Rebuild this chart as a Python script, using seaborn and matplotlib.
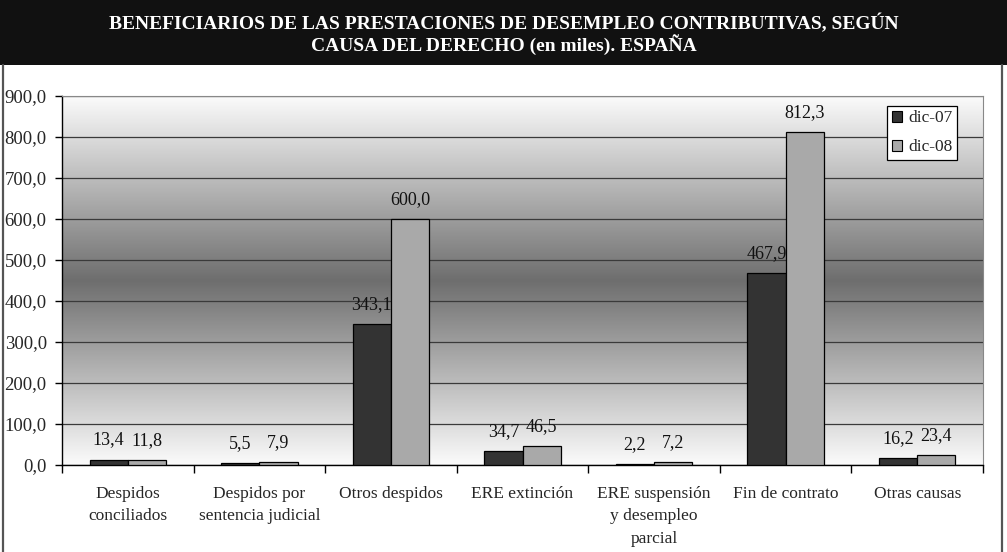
import numpy as np
import pandas as pd
import seaborn as sns
import matplotlib.pyplot as plt
from matplotlib.colors import LinearSegmentedColormap
from matplotlib.patches import Rectangle
from matplotlib.lines import Line2D
from matplotlib.ticker import FuncFormatter, MultipleLocator

# datos (miles de beneficiarios)
categorias = ["Despidos\nconciliados", "Despidos por\nsentencia judicial", "Otros despidos",
              "ERE extinción", "ERE suspensión\ny desempleo\nparcial", "Fin de contrato",
              "Otras causas"]
series = ["dic-07", "dic-08"]
dic_07 = [13.4, 5.5, 343.1, 34.7, 2.2, 467.9, 16.2]
dic_08 = [11.8, 7.9, 600.0, 46.5, 7.2, 812.3, 23.4]
colores = ["#333333", "#a9a9a9"]

titulo = ("BENEFICIARIOS DE LAS PRESTACIONES DE DESEMPLEO CONTRIBUTIVAS, SEGÚN\n"
          "CAUSA DEL DERECHO (en miles). ESPAÑA")

df = pd.DataFrame({
    "causa": categorias * 2,
    "serie": [series[0]] * len(categorias) + [series[1]] * len(categorias),
    "valor": dic_07 + dic_08,
})

sns.set_style("white")
plt.rcParams["font.family"] = ["Liberation Serif", "DejaVu Serif"]

fig = plt.figure(figsize=(10.07, 5.52), dpi=100)
ax = fig.add_axes([62 / 1007, 1 - 465 / 552, (983 - 62) / 1007, (465 - 96) / 552])

# fondo degradado blanco -> gris -> blanco
cmap = LinearSegmentedColormap.from_list("fondo", ["#fbfbfb", "#6e6e6e", "#fbfbfb"])
grad = np.linspace(0, 1, 256).reshape(-1, 1)
ax.imshow(grad, cmap=cmap, aspect="auto", extent=[0, 1, 0, 1],
          transform=ax.transAxes, zorder=0, origin="lower")

sns.barplot(data=df, x="causa", y="valor", hue="serie", palette=colores,
            width=0.58, gap=0, edgecolor="black", linewidth=0.9,
            saturation=1, ax=ax, zorder=3)

fmt = lambda v: f"{v:.1f}".replace(".", ",")
for cont in ax.containers:
    ax.bar_label(cont, labels=[fmt(b.get_height()) for b in cont],
                 padding=8, fontsize=13, color="#111111")

ax.set_ylim(0, 900)
ax.set_xlim(-0.5, len(categorias) - 0.5)
ax.yaxis.set_major_locator(MultipleLocator(100))
ax.yaxis.set_major_formatter(FuncFormatter(lambda v, p: fmt(v)))
ax.grid(axis="y", color="#3a3a3a", linewidth=0.9, zorder=1)
ax.set_axisbelow(True)
ax.set_xlabel("")
ax.set_ylabel("")

ax.set_xticks(np.arange(len(categorias)))
ax.set_xticklabels(categorias, fontsize=12.5, linespacing=1.55)
ax.tick_params(axis="x", length=0, pad=15)
ax.set_xticks(np.arange(len(categorias) + 1) - 0.5, minor=True)
ax.tick_params(axis="x", which="minor", length=6, width=1, direction="out",
               color="black", bottom=True)
ax.tick_params(axis="y", length=5, width=1, direction="out", color="black",
               labelsize=13.5, pad=6, left=True)

for s in ["left", "bottom"]:
    ax.spines[s].set_color("black")
    ax.spines[s].set_linewidth(1)
ax.spines["top"].set_color("#888888")
ax.spines["right"].set_color("#888888")

leg = ax.legend(loc="upper left", bbox_to_anchor=(0.896, 0.973), fontsize=12.5,
                frameon=True, fancybox=False, edgecolor="black", framealpha=1,
                handlelength=0.6, handleheight=0.6, handletextpad=0.35,
                borderpad=0.25, labelspacing=0.75, borderaxespad=0)
leg.get_frame().set_linewidth(0.9)
for h in leg.legend_handles:
    h.set_edgecolor("black")
    h.set_linewidth(0.8)

# banda del titulo y marco exterior
fig.patches.append(Rectangle((0, 1 - 65 / 552), 1, 65 / 552, transform=fig.transFigure,
                             facecolor="#111111", edgecolor="none", zorder=0))
fig.text(0.5, 1 - 34.5 / 552, titulo, ha="center", va="center", color="white",
         fontsize=14, fontweight="bold", linespacing=1.1)
for x in [3 / 1007, 1002 / 1007]:
    fig.lines.append(Line2D([x, x], [0, 1 - 65 / 552], transform=fig.transFigure,
                            color="#555555", linewidth=1.6))

fig.savefig("out.png", dpi=100)
